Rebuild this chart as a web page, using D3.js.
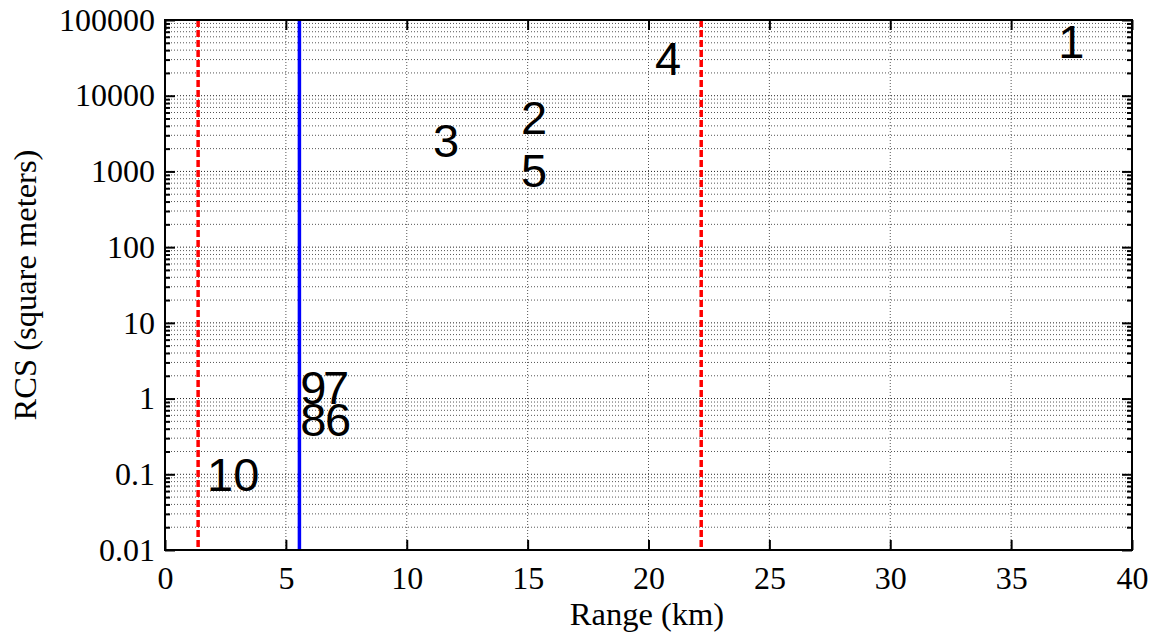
<!DOCTYPE html>
<html>
<head>
<meta charset="utf-8">
<script src="https://cdn.jsdelivr.net/npm/d3@7"></script>
<style>
  html, body { margin: 0; padding: 0; background: #fff; }
  svg { display: block; }
</style>
</head>
<body>
<svg id="chart" width="1151" height="633"></svg>
<script>
// Target labels and their (range, RCS) positions
const targetIds = ["1", "2", "3", "4", "5", "6", "7", "8", "9", "10"];
const targetRangeKm = [36.95, 14.73, 11.09, 20.27, 14.73, 6.62, 6.54, 5.59, 5.59, 1.74];
const targetRcs = [52000, 5200, 2600, 31000, 1040, 0.53, 1.44, 0.53, 1.44, 0.1];

// Range limits (red dashed) and reference range (blue solid)
const limitRangesKm = [1.37, 22.18];
const refRangeKm = [5.56];

// Axis ticks
const xTicks = [0, 5, 10, 15, 20, 25, 30, 35, 40];
const yTicks = [0.01, 0.1, 1, 10, 100, 1000, 10000, 100000];
const yTickLabels = ["0.01", "0.1", "1", "10", "100", "1000", "10000", "100000"];

const margin = { left: 165, right: 19, top: 20, bottom: 83 };
const W = 1151, H = 633;
const iw = W - margin.left - margin.right;
const ih = H - margin.top - margin.bottom;

const svg = d3.select("#chart");
const g = svg.append("g").attr("transform", `translate(${margin.left},${margin.top})`);

const x = d3.scaleLinear().domain([0, 40]).range([0, iw]);
const y = d3.scaleLog().domain([0.01, 100000]).range([ih, 0]);

// minor log values (2..9 x 10^k)
const minorVals = [];
for (let e = -2; e < 5; e++) {
  for (let m = 2; m <= 9; m++) minorVals.push(m * Math.pow(10, e));
}

// grid
const grid = g.append("g").attr("class", "grid");
grid.selectAll("line.hmin").data(minorVals).join("line")
  .attr("x1", 0).attr("x2", iw)
  .attr("y1", d => y(d)).attr("y2", d => y(d))
  .attr("stroke", "#555").attr("stroke-width", 1)
  .attr("stroke-dasharray", "1,2");
grid.selectAll("line.hmaj").data(yTicks.slice(1, -1)).join("line")
  .attr("x1", 0).attr("x2", iw)
  .attr("y1", d => y(d)).attr("y2", d => y(d))
  .attr("stroke", "#222").attr("stroke-width", 1)
  .attr("stroke-dasharray", "1,2");
grid.selectAll("line.v").data(xTicks.slice(1, -1)).join("line")
  .attr("x1", d => x(d)).attr("x2", d => x(d))
  .attr("y1", 0).attr("y2", ih)
  .attr("stroke", "#555").attr("stroke-width", 1)
  .attr("stroke-dasharray", "1,2");

// range limit lines
g.selectAll("line.limit").data(limitRangesKm).join("line")
  .attr("x1", d => x(d)).attr("x2", d => x(d))
  .attr("y1", 0).attr("y2", ih)
  .attr("stroke", "#ff0000").attr("stroke-width", 3.5)
  .attr("stroke-dasharray", "7,3");
g.selectAll("line.ref").data(refRangeKm).join("line")
  .attr("x1", d => x(d)).attr("x2", d => x(d))
  .attr("y1", 0).attr("y2", ih)
  .attr("stroke", "#0000ff").attr("stroke-width", 3.5);

// target labels
g.selectAll("text.target").data(targetIds).join("text")
  .attr("x", (d, i) => x(targetRangeKm[i]))
  .attr("y", (d, i) => y(targetRcs[i]))
  .attr("dy", "0.36em")
  .attr("font-family", "Liberation Sans, Arial, sans-serif")
  .attr("font-size", 47)
  .attr("fill", "#000")
  .text(d => d);

// axes
const fmt = d => yTickLabels[yTicks.indexOf(d)];
const tickFont = "Liberation Serif, Times New Roman, serif";

const xAxisB = g.append("g").attr("transform", `translate(0,${ih})`)
  .call(d3.axisBottom(x).tickValues(xTicks).tickSizeInner(-10).tickSizeOuter(0).tickPadding(16).tickFormat(d3.format("d")));
const xAxisT = g.append("g")
  .call(d3.axisTop(x).tickValues(xTicks).tickSizeInner(-10).tickSizeOuter(0).tickFormat(""));
const yAxisL = g.append("g")
  .call(d3.axisLeft(y).tickValues(yTicks).tickSizeInner(-10).tickSizeOuter(0).tickPadding(10).tickFormat(fmt));
const yAxisLm = g.append("g")
  .call(d3.axisLeft(y).tickValues(minorVals).tickSizeInner(-5).tickSizeOuter(0).tickFormat(""));
const yAxisR = g.append("g").attr("transform", `translate(${iw},0)`)
  .call(d3.axisRight(y).tickValues(yTicks).tickSizeInner(-10).tickSizeOuter(0).tickFormat(""));
const yAxisRm = g.append("g").attr("transform", `translate(${iw},0)`)
  .call(d3.axisRight(y).tickValues(minorVals).tickSizeInner(-5).tickSizeOuter(0).tickFormat(""));

[xAxisB, xAxisT, yAxisL, yAxisLm, yAxisR, yAxisRm].forEach(a => {
  a.select(".domain").remove();
  a.selectAll(".tick line").attr("stroke", "#000").attr("stroke-width", 2);
  a.selectAll(".tick text").attr("font-family", tickFont).attr("font-size", 32).attr("fill", "#000");
});

// plot box
g.append("rect").attr("x", 0).attr("y", 0).attr("width", iw).attr("height", ih)
  .attr("fill", "none").attr("stroke", "#000").attr("stroke-width", 2);

// axis titles
svg.append("text")
  .attr("x", 647).attr("y", 625)
  .attr("text-anchor", "middle")
  .attr("font-family", tickFont).attr("font-size", 32.5).attr("fill", "#000")
  .text("Range (km)");
svg.append("text")
  .attr("transform", `translate(36,${margin.top + ih / 2}) rotate(-90)`)
  .attr("text-anchor", "middle")
  .attr("font-family", tickFont).attr("font-size", 32.5).attr("fill", "#000")
  .text("RCS (square meters)");
</script>
</body>
</html>
